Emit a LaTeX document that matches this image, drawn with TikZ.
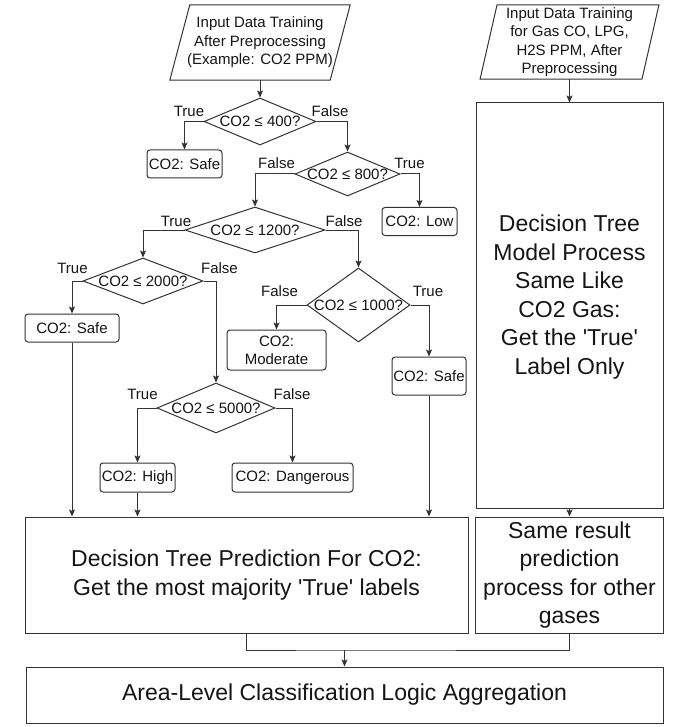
\documentclass[tikz,border=0pt]{standalone}
\usepackage{fontspec}
\setmainfont{Liberation Sans}
\usetikzlibrary{arrows.meta,shapes.geometric}
\definecolor{lncol}{HTML}{333333}
\definecolor{txcol}{HTML}{151515}
\begin{document}
\begin{tikzpicture}[x=1pt,y=-1pt,
  every node/.style={text=txcol},
  sm/.style={font=\fontsize{15}{18.5}\selectfont},
  bg/.style={font=\fontsize{23}{28.6}\selectfont},
  res/.style={sm, draw=lncol, line width=1pt, rounded corners=3pt, inner sep=0pt, align=center},
  dec/.style={sm, draw=lncol, line width=1pt, diamond, inner sep=0pt},
  bbox/.style={bg, draw=lncol, line width=1pt, inner sep=0pt, align=center},
  inp/.style={sm, inner sep=0pt, align=center},
  lbl/.style={sm, inner sep=0pt, anchor=base},
  arr/.style={draw=lncol, line width=1pt, -{Stealth[length=7pt,width=6pt,inset=1.5pt]}},
  plain/.style={draw=lncol, line width=1pt},
]
\useasboundingbox (0,0) rectangle (672,727);
\fill[white] (0,0) rectangle (672,727);

% inputs
\node[inp, minimum width=160pt, minimum height=75pt] (in1) at (260,42.5)
  {Input Data Training\\After Preprocessing\\(Example: CO2 PPM)};
\draw[plain] ([xshift=-10pt]in1.south west) -- ([xshift=10pt]in1.north west)
  -- ([xshift=10pt]in1.north east) -- ([xshift=-10pt]in1.south east) -- cycle;

\node[inp, minimum width=161.5pt, minimum height=74pt] (in2) at (569.5,42)
  {Input Data Training\\for Gas CO, LPG,\\H2S PPM, After\\Preprocessing};
\draw[plain] ([xshift=-8.5pt]in2.south west) -- ([xshift=8.5pt]in2.north west)
  -- ([xshift=8.5pt]in2.north east) -- ([xshift=-8.5pt]in2.south east) -- cycle;

% decisions
\node[dec, minimum width=112pt, minimum height=47pt] (d1) at (260,121.5) {\makebox[0pt]{CO2 ≤ 400?}};
\node[dec, minimum width=105pt, minimum height=44pt] (d2) at (347.5,174) {\makebox[0pt]{CO2 ≤ 800?}};
\node[dec, minimum width=140pt, minimum height=46pt] (d3) at (255,230) {\makebox[0pt]{CO2 ≤ 1200?}};
\node[dec, minimum width=120pt, minimum height=46pt] (d4) at (143,281) {\makebox[0pt]{CO2 ≤ 2000?}};
\node[dec, minimum width=103pt, minimum height=74pt] (d5) at (358.5,305) {\makebox[0pt]{CO2 ≤ 1000?}};
\node[dec, minimum width=118pt, minimum height=50pt] (d6) at (216,408) {\makebox[0pt]{CO2 ≤ 5000?}};

% results
\node[res, minimum width=75pt, minimum height=28pt] (safe1) at (184.5,164) {CO2: Safe};
\node[res, minimum width=75pt, minimum height=28pt] (low) at (419.5,221.5) {CO2: Low};
\node[res, minimum width=94pt, minimum height=28pt] (safe2) at (72,328) {CO2: Safe};
\node[res, minimum width=99pt, minimum height=40pt, font=\fontsize{15}{18}\selectfont] (mod) at (276.5,350) {CO2:\\Moderate};
\node[res, minimum width=74pt, minimum height=38pt] (safe3) at (429,376) {CO2: Safe};
\node[res, minimum width=75pt, minimum height=29pt] (high) at (137.5,477.5) {CO2: High};
\node[res, minimum width=121pt, minimum height=29pt] (dang) at (292.5,477.5) {CO2: Dangerous};

% big boxes
\node[bbox, minimum width=187pt, minimum height=405pt] (big) at (569.5,305.5) {};
\node[bg, align=center, inner sep=0pt] (bigtxt) at (569.5,297)
  {Decision Tree\\Model Process\\Same Like\\CO2 Gas:\\Get the \textquotesingle True\textquotesingle\\Label Only};
\node[bbox, minimum width=443pt, minimum height=116pt] (main) at (246.5,575)
  {Decision Tree Prediction For CO2:\\Get the most majority \textquotesingle True\textquotesingle\ labels};
\node[bbox, minimum width=188pt, minimum height=116pt] (side) at (569.5,575)
  {Same result\\prediction\\process for other\\gases};
\node[bbox, minimum width=637pt, minimum height=56pt] (final) at (344.5,695)
  {Area-Level Classification Logic Aggregation};

% branch labels
\node[lbl] (t1) at (189,117) {True};
\node[lbl] (f1) at (330,117) {False};
\node[lbl] (f2) at (276.5,169) {False};
\node[lbl] (t2) at (409.5,169) {True};
\node[lbl] (t3) at (176,226) {True};
\node[lbl] (f3) at (344,226) {False};
\node[lbl] (t4) at (72.5,273) {True};
\node[lbl] (f4) at (219.5,273) {False};
\node[lbl] (f5) at (279.5,296) {False};
\node[lbl] (t5) at (428,296) {True};
\node[lbl] (t6) at (142.5,399) {True};
\node[lbl] (f6) at (292,399) {False};

% connectors
\draw[arr] (in1.south) -- (d1.north);
\draw[arr] (d1.west) -| (safe1.north);
\draw[arr] (d1.east) -| (d2.north);
\draw[arr] (d2.east) -| (low.north);
\draw[arr] (d2.west) -| (d3.north);
\draw[arr] (d3.west) -| (d4.north);
\draw[arr] (d3.east) -| (d5.north);
\draw[arr] (d4.west) -| (safe2.north);
\draw[arr] (d4.east) -| (d6.north);
\draw[arr] (d5.west) -| (mod.north);
\draw[arr] (d5.east) -| (safe3.north);
\draw[arr] (d6.west) -| (high.north);
\draw[arr] (d6.east) -| (dang.north);
\draw[arr] (safe2.south) -- (safe2.south |- main.north);
\draw[arr] (high.south) -- (high.south |- main.north);
\draw[arr] (safe3.south) -- (safe3.south |- main.north);
\draw[arr] (in2.south) -- (big.north);
\draw[arr] (big.south) -- (side.north);
\coordinate (jn) at (344.5,650);
\draw[plain] (main.south) |- (jn) -| (side.south);
\draw[arr] (jn) -- (final.north);
\end{tikzpicture}
\end{document}
